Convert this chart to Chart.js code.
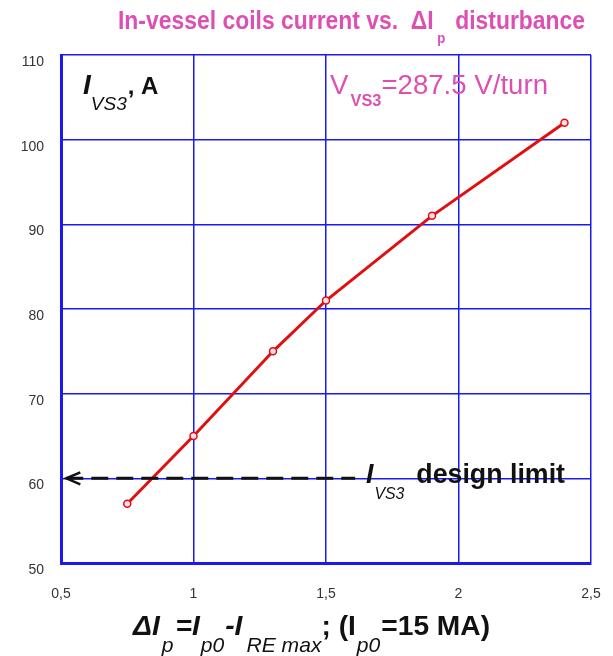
<!DOCTYPE html>
<html>
<head>
<meta charset="utf-8">
<script src="https://cdn.jsdelivr.net/npm/chart.js@4.4.0/dist/chart.umd.min.js"></script>
<style>
  html, body { margin: 0; padding: 0; background: #fff; }
  #wrap { width: 613px; height: 656px; position: relative; }
</style>
</head>
<body>
<div id="wrap"><canvas id="myChart" width="613" height="656"></canvas></div>
<script>
// values
const dIp = [0.75, 1.0, 1.3, 1.5, 1.9, 2.4];
const iVs3 = [57, 65, 75, 81, 91, 102];
const limitX = [0.52, 1.61];
const limitValue = 60;
const xTicks = [0.5, 1, 1.5, 2, 2.5];
const yTicks = [50, 60, 70, 80, 90, 100, 110];

const pink = '#dd4fb2';
const blue = '#1a1aee';

// text pieces with subscripts: [text, 'n'|'s', font, dy, gapAfter]
// squeezed horizontally so the whole line is `width` px wide
function drawRich(ctx, parts, x, y, color, width) {
  let total = 0;
  parts.forEach(p => {
    ctx.font = p[2];
    total += ctx.measureText(p[0]).width + (p[4] || 0);
  });
  const sx = width ? width / total : 1;
  ctx.save();
  ctx.translate(x, y);
  ctx.scale(sx, 1);
  let cx = 0;
  parts.forEach(p => {
    ctx.font = p[2];
    ctx.fillStyle = color;
    ctx.textBaseline = 'alphabetic';
    ctx.textAlign = 'left';
    const dy = p[1] === 's' ? (p[3] || 12) : 0;
    ctx.fillText(p[0], cx, dy);
    cx += ctx.measureText(p[0]).width + (p[4] || 0);
  });
  ctx.restore();
}

const textPlugin = {
  id: 'texts',
  afterDraw(chart) {
    const ctx = chart.ctx;
    const xs = chart.scales.x, ys = chart.scales.y;
    // title
    const tf = 'bold 26px Arial, sans-serif';
    drawRich(ctx, [
      ['In-vessel coils current vs.  \u0394I', 'n', tf, 0, 4],
      ['p', 's', 'bold 15px Arial, sans-serif', 14, 4],
      [' disturbance', 'n', tf]
    ], 118, 29, pink, 467);
    // y label
    drawRich(ctx, [
      ['I', 'n', 'bold italic 28px Arial, sans-serif', 0, 0],
      ['VS3', 's', 'italic 19px Arial, sans-serif', 16, 1],
      [', A', 'n', 'bold 24px Arial, sans-serif']
    ], 83, 94, '#111');
    // V label
    drawRich(ctx, [
      ['V', 'n', '27px Arial, sans-serif', 0, 2],
      ['VS3', 's', 'bold 16px Arial, sans-serif', 12],
      ['=287.5 V/turn', 'n', '27px Arial, sans-serif']
    ], 330, 94, pink, 218);
    // design limit label
    const ly = ys.getPixelForValue(limitValue);
    drawRich(ctx, [
      ['I', 'n', 'bold italic 27px Arial, sans-serif', 0, 1],
      ['VS3', 's', 'italic 16px Arial, sans-serif', 16, 12],
      ['design limit', 'n', 'bold 27px Arial, sans-serif']
    ], 366, ly + 5, '#111', 199);
    // arrow head on the limit line
    const ax = xs.getPixelForValue(limitX[0]);
    ctx.save();
    ctx.strokeStyle = '#111';
    ctx.lineWidth = 2.5;
    ctx.beginPath();
    ctx.moveTo(ax + 14, ly - 6);
    ctx.lineTo(ax, ly);
    ctx.lineTo(ax + 14, ly + 6);
    ctx.stroke();
    ctx.restore();
    // x title
    const xb = 'bold italic 28px Arial, sans-serif';
    const xsub = 'italic 21px Arial, sans-serif';
    drawRich(ctx, [
      ['\u0394I', 'n', xb, 0, 2],
      ['p', 's', xsub, 17, 2],
      ['=I', 'n', xb, 0, 1],
      ['p0', 's', xsub, 17, 1],
      ['-I', 'n', xb, 0, 4],
      ['RE max', 's', xsub, 17],
      ['; (I', 'n', 'bold 28px Arial, sans-serif', 0, 1],
      ['p0', 's', xsub, 17, 1],
      ['=15 MA)', 'n', 'bold 28px Arial, sans-serif']
    ], 133, 635, '#111', 357);
  }
};

const ctx = document.getElementById('myChart').getContext('2d');
new Chart(ctx, {
  type: 'scatter',
  data: {
    datasets: [
      {
        label: 'limit',
        data: limitX.map(x => ({ x: x, y: limitValue })),
        showLine: true,
        borderColor: '#111',
        borderWidth: 3,
        borderDash: [17, 8],
        pointRadius: 0
      },
      {
        label: 'I_VS3',
        data: dIp.map((x, i) => ({ x: x, y: iVs3[i] })),
        showLine: true,
        borderColor: '#e01010',
        borderWidth: 3,
        pointRadius: 3.5,
        pointBackgroundColor: '#fde',
        pointBorderColor: '#e01010',
        pointBorderWidth: 1.5
      }
    ]
  },
  options: {
    responsive: false,
    animation: false,
    layout: { padding: { top: 55, right: 22, left: 0, bottom: 0 } },
    plugins: { legend: { display: false }, tooltip: { enabled: false } },
    scales: {
      x: {
        type: 'linear',
        min: 0.5, max: 2.5,
        afterBuildTicks: s => { s.ticks = xTicks.map(v => ({ value: v })); },
        afterFit: s => { s.height = 93; s.paddingRight = 0; s.paddingLeft = 0; },
        grid: { color: blue, lineWidth: 1.5, drawTicks: false },
        border: { color: blue, width: 3 },
        ticks: {
          padding: 23,
          color: '#333',
          font: { family: 'Arial', size: 14 },
          callback: v => String(v).replace('.', ',')
        }
      },
      y: {
        min: 50, max: 110,
        afterBuildTicks: s => { s.ticks = yTicks.map(v => ({ value: v })); },
        afterFit: s => { s.width = 61; },
        grid: { color: blue, lineWidth: 1.5, drawTicks: false },
        border: { color: blue, width: 3 },
        ticks: {
          padding: 17,
          labelOffset: 7,
          color: '#333',
          font: { family: 'Arial', size: 14 }
        }
      }
    }
  },
  plugins: [textPlugin]
});
</script>
</body>
</html>
